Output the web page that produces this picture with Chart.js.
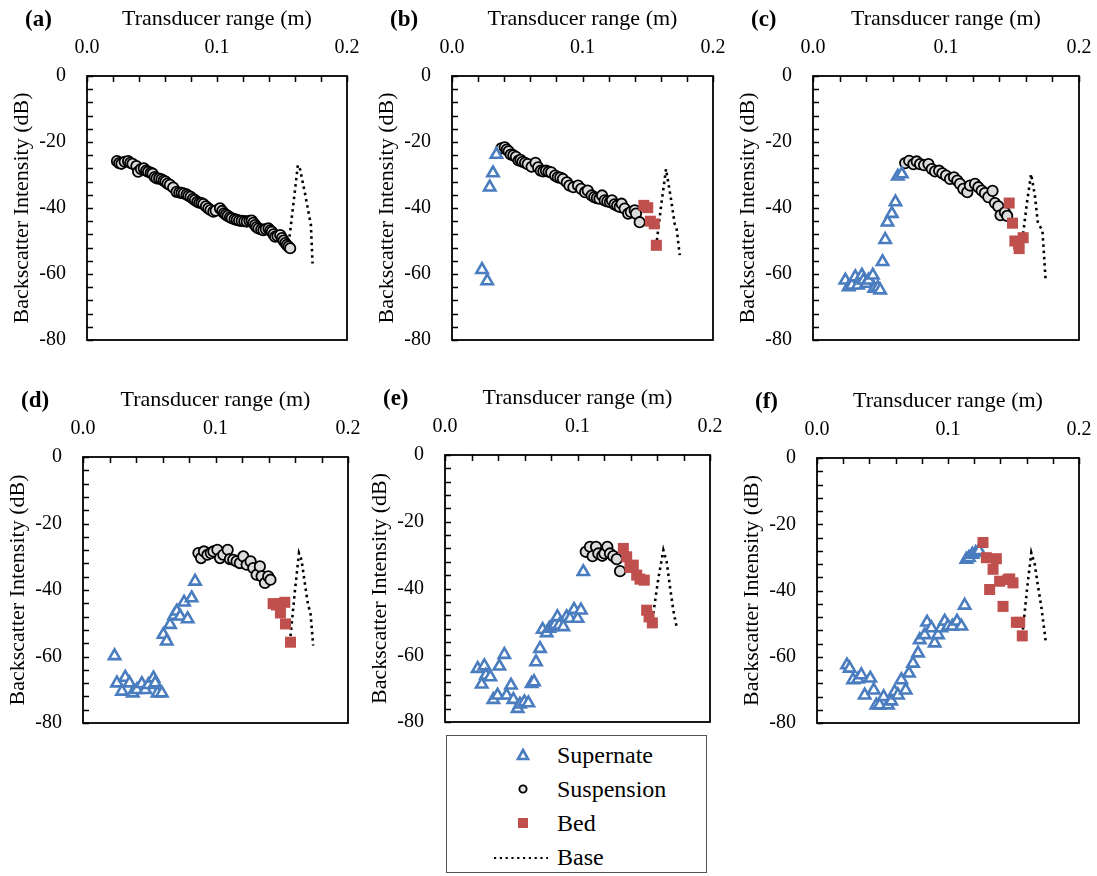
<!DOCTYPE html>
<html lang="en">
<head>
<meta charset="UTF-8">
<title>Backscatter intensity profiles</title>
<script src="https://cdn.jsdelivr.net/npm/chart.js"></script>
<style>
  body { margin: 0; background: #fff; }
  #page { position: relative; width: 1097px; height: 876px; overflow: hidden; }
  #page canvas { position: absolute; }
  #legend { position: absolute; left: 446px; top: 735px; width: 261px; height: 138px;
            border: 1px solid #555; box-sizing: border-box; font-family: "Liberation Serif", serif;
            font-size: 24px; color: #000; }
  #legend .row { position: absolute; left: 0; width: 100%; height: 30px; }
  #legend svg { position: absolute; left: 0; top: 0; }
  #legend span { position: absolute; left: 110px; top: 0; line-height: 30px; }
</style>
</head>
<body>
<div id="page">
  <div id="legend">
    <div class="row" style="top:4px">
      <svg width="110" height="30"><polygon points="76,10 81,19 71,19" fill="#fff" stroke="#4a7dbf" stroke-width="2.6"/></svg>
      <span>Supernate</span>
    </div>
    <div class="row" style="top:38px">
      <svg width="110" height="30"><circle cx="76" cy="15" r="3.6" fill="#e6e6e6" stroke="#000" stroke-width="1.9"/></svg>
      <span>Suspension</span>
    </div>
    <div class="row" style="top:72px">
      <svg width="110" height="30"><rect x="71" y="10" width="10" height="10" fill="#c0504d"/></svg>
      <span>Bed</span>
    </div>
    <div class="row" style="top:106px">
      <svg width="110" height="30"><line x1="47" y1="16" x2="101" y2="16" stroke="#000" stroke-width="2.2" stroke-dasharray="2.2,3.6"/></svg>
      <span>Base</span>
    </div>
  </div>
</div>

<script>
// axis labels that carry text
var xLabelled = [0, 0.1, 0.2];
var yLabelled = [0, -20, -40, -60, -80];

// (a)
var aSupernate = [];
var aSuspension = [[0.0231,-25.8],[0.0248,-26.4],[0.0265,-26.6],[0.0290,-26.0],[0.0316,-25.8],[0.0333,-26.3],[0.0350,-26.6],[0.0380,-27.3],[0.0393,-29.0],[0.0415,-28.2],[0.0437,-28.0],[0.0455,-28.7],[0.0470,-29.0],[0.0490,-29.3],[0.0504,-29.6],[0.0520,-30.6],[0.0535,-31.0],[0.0555,-31.1],[0.0573,-31.3],[0.0590,-31.7],[0.0604,-32.0],[0.0620,-32.6],[0.0638,-33.0],[0.0663,-33.8],[0.0689,-35.1],[0.0710,-35.3],[0.0728,-35.4],[0.0745,-35.6],[0.0766,-35.9],[0.0780,-36.3],[0.0797,-36.6],[0.0815,-37.2],[0.0830,-37.6],[0.0848,-38.1],[0.0864,-38.4],[0.0880,-38.5],[0.0895,-38.8],[0.0915,-39.5],[0.0933,-40.1],[0.0950,-40.6],[0.0972,-41.1],[0.0990,-40.8],[0.1023,-40.1],[0.1040,-40.9],[0.1054,-41.6],[0.1068,-42.0],[0.1082,-42.4],[0.1100,-42.8],[0.1113,-43.1],[0.1135,-43.4],[0.1152,-43.6],[0.1170,-43.8],[0.1190,-43.9],[0.1210,-44.0],[0.1229,-44.1],[0.1250,-43.9],[0.1267,-43.8],[0.1280,-44.5],[0.1293,-45.2],[0.1305,-45.8],[0.1319,-46.2],[0.1340,-46.5],[0.1357,-46.7],[0.1375,-46.4],[0.1396,-46.2],[0.1410,-46.8],[0.1422,-47.2],[0.1435,-48.0],[0.1447,-48.7],[0.1465,-48.5],[0.1486,-48.2],[0.1500,-49.1],[0.1512,-49.9],[0.1525,-50.6],[0.1537,-51.2],[0.1550,-51.7],[0.1563,-52.2]];
var aBed = [];
var aBase = [[0.1558,-48.7],[0.1590,-38.0],[0.1622,-27.0],[0.1640,-28.4],[0.1679,-36.0],[0.1710,-42.6],[0.1722,-45.0],[0.1735,-56.8]];

// (b)
var bSupernate = [[0.0230,-58.7],[0.0270,-62.1],[0.0289,-33.7],[0.0314,-29.4],[0.0340,-23.8]];
var bSuspension = [[0.0378,-21.9],[0.0404,-21.6],[0.0420,-22.3],[0.0434,-22.8],[0.0450,-23.8],[0.0470,-24.0],[0.0490,-24.5],[0.0510,-25.6],[0.0525,-25.4],[0.0540,-26.0],[0.0560,-26.3],[0.0580,-26.7],[0.0610,-27.5],[0.0640,-26.3],[0.0660,-27.7],[0.0680,-28.7],[0.0700,-28.9],[0.0720,-28.7],[0.0740,-29.0],[0.0760,-29.2],[0.0790,-30.2],[0.0810,-30.7],[0.0830,-30.8],[0.0850,-31.2],[0.0880,-32.2],[0.0900,-33.2],[0.0930,-33.7],[0.0966,-33.2],[0.0990,-34.2],[0.1020,-35.2],[0.1040,-34.7],[0.1070,-36.2],[0.1090,-36.7],[0.1110,-37.0],[0.1130,-37.2],[0.1150,-36.2],[0.1170,-37.7],[0.1190,-38.0],[0.1210,-38.2],[0.1226,-37.7],[0.1246,-38.9],[0.1265,-39.3],[0.1285,-39.7],[0.1300,-38.7],[0.1323,-40.2],[0.1350,-41.7],[0.1370,-41.2],[0.1400,-40.7],[0.1410,-41.7],[0.1438,-44.3]];
var bBed = [[0.1470,-39.2],[0.1500,-39.9],[0.1520,-44.0],[0.1550,-44.8],[0.1566,-51.3]];
var bBase = [[0.1570,-49.8],[0.1605,-38.5],[0.1640,-28.2],[0.1680,-37.7],[0.1706,-44.8],[0.1720,-45.8],[0.1745,-54.3]];

// (c)
var cSupernate = [[0.0243,-61.9],[0.0268,-63.9],[0.0293,-63.4],[0.0318,-60.9],[0.0338,-63.4],[0.0368,-60.4],[0.0380,-61.9],[0.0400,-62.9],[0.0418,-61.9],[0.0450,-60.4],[0.0460,-64.4],[0.0488,-64.1],[0.0505,-64.9],[0.0523,-56.3],[0.0543,-49.6],[0.0560,-44.3],[0.0593,-41.7],[0.0620,-38.2],[0.0638,-30.4],[0.0668,-29.7]];
var cSuspension = [[0.0693,-26.4],[0.0723,-25.7],[0.0755,-26.7],[0.0780,-25.9],[0.0805,-26.7],[0.0835,-27.0],[0.0868,-26.7],[0.0893,-28.2],[0.0918,-28.9],[0.0948,-28.7],[0.0973,-29.5],[0.1000,-30.2],[0.1030,-31.2],[0.1060,-30.7],[0.1085,-31.7],[0.1105,-32.7],[0.1130,-34.2],[0.1160,-35.2],[0.1180,-33.2],[0.1218,-32.7],[0.1243,-33.7],[0.1268,-34.7],[0.1293,-35.5],[0.1318,-36.7],[0.1350,-34.8],[0.1368,-38.5],[0.1393,-39.5],[0.1410,-42.2],[0.1443,-41.3],[0.1460,-42.4]];
var cBed = [[0.1475,-38.5],[0.1500,-44.6],[0.1518,-50.0],[0.1545,-51.0],[0.1550,-52.3],[0.1580,-49.0]];
var cBase = [[0.1580,-47.8],[0.1610,-38.0],[0.1640,-29.7],[0.1668,-36.2],[0.1690,-44.2],[0.1710,-45.8],[0.1725,-46.8],[0.1750,-62.4]];

// (d)
var dSupernate = [[0.0238,-59.8],[0.0256,-68.0],[0.0294,-70.5],[0.0319,-66.3],[0.0351,-68.0],[0.0376,-71.0],[0.0407,-70.0],[0.0444,-68.2],[0.0470,-70.0],[0.0494,-68.5],[0.0532,-66.5],[0.0545,-68.0],[0.0562,-71.0],[0.0595,-71.0],[0.0607,-53.4],[0.0632,-55.4],[0.0657,-50.4],[0.0688,-47.7],[0.0708,-46.4],[0.0733,-47.9],[0.0763,-43.7],[0.0790,-48.7],[0.0820,-42.4],[0.0846,-37.4]];
var dSuspension = [[0.0871,-28.9],[0.0891,-30.4],[0.0913,-28.4],[0.0939,-29.4],[0.0964,-28.9],[0.0984,-28.4],[0.1014,-27.9],[0.1034,-30.4],[0.1059,-29.4],[0.1092,-27.9],[0.1109,-30.7],[0.1134,-30.9],[0.1159,-31.4],[0.1184,-31.9],[0.1210,-29.9],[0.1235,-32.4],[0.1265,-31.4],[0.1285,-33.4],[0.1310,-35.4],[0.1335,-32.9],[0.1348,-35.9],[0.1373,-37.9],[0.1398,-35.9],[0.1415,-36.9]];
var dBed = [[0.1435,-44.1],[0.1460,-44.5],[0.1480,-44.1],[0.1490,-46.9],[0.1523,-43.7],[0.1528,-50.2],[0.1566,-55.7]];
var dBase = [[0.1566,-53.9],[0.1600,-40.0],[0.1630,-28.9],[0.1649,-30.9],[0.1674,-37.9],[0.1700,-44.9],[0.1716,-46.4],[0.1737,-56.7]];

// (e)
var eSupernate = [[0.0247,-64.0],[0.0277,-68.7],[0.0297,-63.2],[0.0309,-66.0],[0.0342,-66.5],[0.0365,-73.3],[0.0397,-72.0],[0.0410,-63.3],[0.0448,-59.8],[0.0465,-72.0],[0.0498,-69.0],[0.0516,-73.3],[0.0548,-76.0],[0.0566,-74.7],[0.0599,-74.0],[0.0629,-74.3],[0.0654,-68.5],[0.0672,-68.0],[0.0687,-62.0],[0.0717,-58.0],[0.0737,-52.3],[0.0767,-53.3],[0.0787,-52.0],[0.0805,-51.5],[0.0830,-50.8],[0.0848,-48.5],[0.0863,-51.0],[0.0893,-51.5],[0.0918,-48.5],[0.0943,-49.0],[0.0974,-46.3],[0.1001,-49.0],[0.1026,-46.5],[0.1044,-35.0]];
var eSuspension = [[0.1062,-29.0],[0.1094,-27.5],[0.1114,-30.3],[0.1140,-27.5],[0.1157,-29.5],[0.1187,-30.2],[0.1203,-29.5],[0.1225,-27.5],[0.1245,-29.5],[0.1270,-30.3],[0.1296,-31.2],[0.1321,-34.8]];
var eBed = [[0.1346,-28.0],[0.1371,-30.5],[0.1396,-33.7],[0.1421,-33.0],[0.1447,-36.0],[0.1472,-37.2],[0.1504,-37.5],[0.1522,-46.5],[0.1540,-48.5],[0.1565,-50.3]];
var eBase = [[0.1572,-47.5],[0.1610,-37.0],[0.1648,-28.5],[0.1673,-32.0],[0.1698,-39.5],[0.1723,-46.5],[0.1748,-51.5]];

// (f)
var fSupernate = [[0.0229,-62.5],[0.0249,-63.5],[0.0275,-67.0],[0.0313,-66.8],[0.0338,-65.5],[0.0364,-71.6],[0.0407,-66.5],[0.0433,-70.1],[0.0453,-74.6],[0.0478,-74.6],[0.0509,-72.1],[0.0542,-74.6],[0.0567,-73.4],[0.0593,-70.6],[0.0618,-71.6],[0.0644,-67.0],[0.0677,-70.1],[0.0702,-65.0],[0.0733,-62.0],[0.0771,-58.9],[0.0784,-54.9],[0.0822,-53.4],[0.0840,-49.6],[0.0873,-51.3],[0.0898,-55.9],[0.0924,-53.4],[0.0949,-51.3],[0.0975,-49.3],[0.1000,-50.8],[0.1033,-50.8],[0.1069,-49.3],[0.1102,-50.8],[0.1127,-44.5],[0.1140,-30.6],[0.1160,-30.1],[0.1186,-29.1],[0.1211,-28.6],[0.1237,-28.0]];
var fSuspension = [];
var fBed = [[0.1267,-25.5],[0.1293,-30.1],[0.1318,-39.7],[0.1344,-33.6],[0.1369,-30.4],[0.1394,-37.2],[0.1420,-44.8],[0.1458,-36.7],[0.1471,-36.5],[0.1496,-37.7],[0.1522,-49.6],[0.1547,-49.6],[0.1567,-53.7]];
var fBase = [[0.1572,-51.8],[0.1605,-39.0],[0.1636,-28.6],[0.1662,-32.1],[0.1687,-38.7],[0.1712,-44.8],[0.1746,-55.4]];

// plot rectangle of every panel on the page
var panels = [
  { letter: '(a)', box: [87, 76, 260, 264],  sets: [aSupernate, aSuspension, aBed, aBase] },
  { letter: '(b)', box: [452, 76, 261, 264], sets: [bSupernate, bSuspension, bBed, bBase] },
  { letter: '(c)', box: [813, 76, 266, 264], sets: [cSupernate, cSuspension, cBed, cBase] },
  { letter: '(d)', box: [83, 457, 265, 266], sets: [dSupernate, dSuspension, dBed, dBase] },
  { letter: '(e)', box: [445, 455, 265, 267], sets: [eSupernate, eSuspension, eBed, eBase] },
  { letter: '(f)', box: [817, 458, 262, 265], sets: [fSupernate, fSuspension, fBed, fBase] }
];

var serif = '"Liberation Serif", "Times New Roman", serif';
var Y_AXIS_W = 87, X_AXIS_H = 76, PAD_R = 14, PAD_B = 14;

function pts(list) {
  return list.map(function (p) { return { x: p[0], y: p[1] }; });
}
function near(v, list) {
  return list.some(function (t) { return Math.abs(v - t) < 1e-6; });
}

// box round the plot, inward tick marks and the panel letter
var framePlugin = {
  id: 'frame',
  beforeDatasetsDraw: function (chart, args, opts) {
    var ctx = chart.ctx, a = chart.chartArea, sx = chart.scales.x, sy = chart.scales.y;
    ctx.save();
    ctx.strokeStyle = '#000';
    ctx.lineWidth = 1.8;
    ctx.strokeRect(a.left, a.top, a.right - a.left, a.bottom - a.top);
    ctx.lineWidth = 1.5;
    ctx.beginPath();
    sx.ticks.forEach(function (t) {
      var px = Math.round(sx.getPixelForValue(t.value)) + 0.5;
      ctx.moveTo(px, a.top); ctx.lineTo(px, a.top + 6);
    });
    sy.ticks.forEach(function (t) {
      var py = Math.round(sy.getPixelForValue(t.value)) + 0.5;
      ctx.moveTo(a.left, py); ctx.lineTo(a.left + 6, py);
    });
    ctx.stroke();
    ctx.font = 'bold 23px ' + serif;
    ctx.fillStyle = '#000';
    ctx.textBaseline = 'middle';
    ctx.fillText(opts.letter, a.left - 62, a.top - 56);
    ctx.restore();
  }
};

var page = document.getElementById('page');

panels.forEach(function (p) {
  var b = p.box;
  var canvas = document.createElement('canvas');
  canvas.width = b[2] + Y_AXIS_W + PAD_R;
  canvas.height = b[3] + X_AXIS_H + PAD_B;
  canvas.style.left = (b[0] - Y_AXIS_W) + 'px';
  canvas.style.top = (b[1] - X_AXIS_H) + 'px';
  canvas.style.width = canvas.width + 'px';
  canvas.style.height = canvas.height + 'px';
  page.appendChild(canvas);

  new Chart(canvas.getContext('2d'), {
    type: 'scatter',
    data: {
      datasets: [
        {
          label: 'Supernate', data: pts(p.sets[0]), order: 1,
          pointStyle: 'triangle', pointRadius: 6.5, pointBorderWidth: 2.6,
          borderColor: '#4a7dbf', backgroundColor: '#ffffff'
        },
        {
          label: 'Suspension', data: pts(p.sets[1]), order: 2,
          pointStyle: 'circle', pointRadius: 5.2, pointBorderWidth: 1.8,
          borderColor: '#000000', backgroundColor: '#dcdcdc'
        },
        {
          label: 'Bed', data: pts(p.sets[2]), order: 0,
          pointStyle: 'rect', pointRadius: 7.8, pointBorderWidth: 0,
          borderColor: '#c0504d', backgroundColor: '#c0504d'
        },
        {
          label: 'Base', data: pts(p.sets[3]), order: 3,
          showLine: true, pointRadius: 0, borderColor: '#000000',
          borderWidth: 2.6, borderDash: [2.5, 3.8], tension: 0
        }
      ]
    },
    options: {
      responsive: false,
      animation: false,
      devicePixelRatio: 1,
      layout: { padding: { left: 0, top: 0, right: PAD_R, bottom: PAD_B } },
      plugins: {
        legend: { display: false },
        tooltip: { enabled: false },
        frame: { letter: p.letter }
      },
      scales: {
        x: {
          type: 'linear', position: 'top', min: 0, max: 0.2,
          grid: { display: false, drawTicks: false },
          border: { display: false },
          ticks: {
            stepSize: 0.02, autoSkip: false, maxRotation: 0, padding: 16,
            color: '#000', font: { family: serif, size: 20 },
            callback: function (v) { return near(v, xLabelled) ? v.toFixed(1) : ''; }
          },
          title: {
            display: true, text: 'Transducer range (m)', color: '#000',
            font: { family: serif, size: 22 }, padding: { top: 6, bottom: 0 }
          },
          afterFit: function (s) {
            s.height = X_AXIS_H;
            s.paddingLeft = 0; s.paddingRight = 0;
          }
        },
        y: {
          type: 'linear', position: 'left', min: -80, max: 0,
          grid: { display: false, drawTicks: false },
          border: { display: false },
          ticks: {
            stepSize: 4, autoSkip: false, padding: 21,
            color: '#000', font: { family: serif, size: 20 },
            callback: function (v) { return near(v, yLabelled) ? String(Math.round(v)) : ''; }
          },
          title: {
            display: true, text: 'Backscatter Intensity (dB)', color: '#000',
            font: { family: serif, size: 22 }, padding: { top: 9, bottom: 0 }
          },
          afterFit: function (s) {
            s.width = Y_AXIS_W;
            s.paddingTop = 0; s.paddingBottom = 0;
          }
        }
      }
    },
    plugins: [framePlugin]
  });
});
</script>
</body>
</html>
